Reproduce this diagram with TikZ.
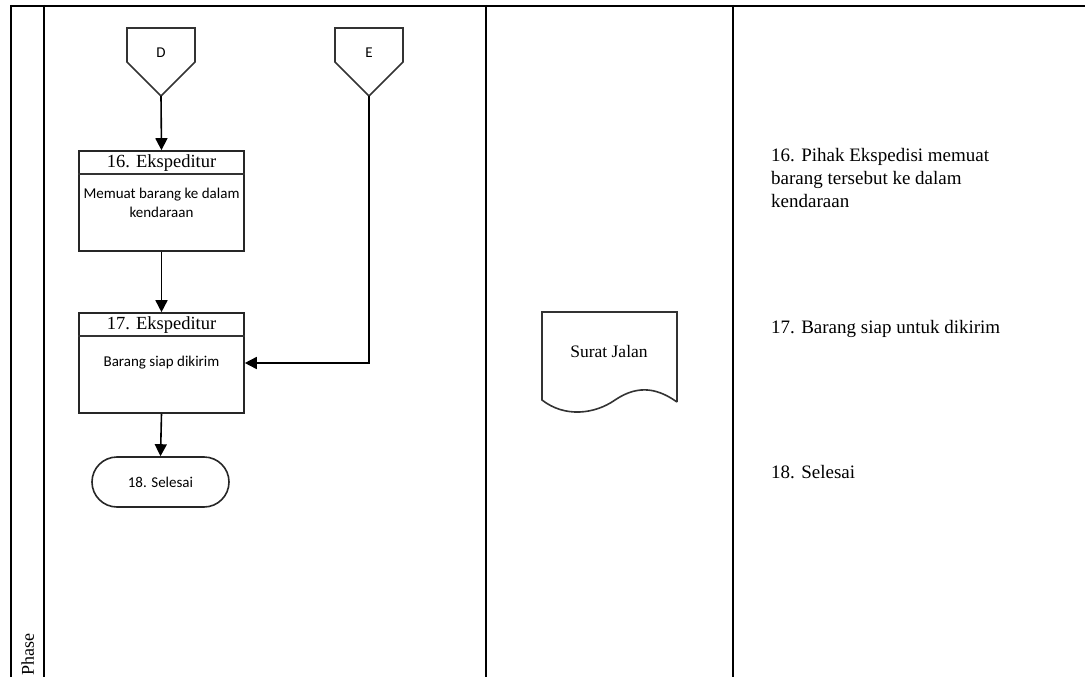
\documentclass[tikz,border=0pt]{standalone}
\usepackage{fontspec}
\setmainfont{Liberation Serif}
\newfontfamily\calibrifont{Carlito}
\usetikzlibrary{arrows.meta}

\begin{document}
\begin{tikzpicture}[x=1pt, y=-1pt, every node/.style={inner sep=0pt},
  lane/.style={line width=2.2pt, black},
  shapeline/.style={line width=1.6pt, draw=black!80},
  procbox/.style={draw=black!85, line width=1.6pt, minimum width=165pt, minimum height=100pt},
  headtxt/.style={font=\fontsize{18.5}{20}\selectfont},
  bodytxt/.style={font=\calibrifont\fontsize{15}{19}\selectfont, align=center},
  desctxt/.style={font=\fontsize{19}{23}\selectfont, align=left, anchor=north west},
  arr/.style={-{Triangle[length=12pt,width=12pt]}, line width=1.6pt}]
\useasboundingbox (0,0) rectangle (1085,677);

% lanes
\draw[line width=2.8pt] (10,6) -- (1085,6);
\draw[lane] (11,5) -- (11,677);
\draw[lane] (44,5) -- (44,677);
\draw[lane] (486,5) -- (486,677);
\draw[lane] (733,5) -- (733,677);
\node[font=\fontsize{18}{20}\selectfont, rotate=90, anchor=base west] (phase) at (34,676) {Phase};

% off-page connectors
\draw[shapeline] (127,28) -- (195,28) -- (195,62) -- (161,96) -- (127,62) -- cycle;
\node[font=\calibrifont\fontsize{15}{16}\selectfont] (D) at (161,53) {D};
\coordinate (Dtip) at (161,96);
\draw[shapeline] (335,28) -- (403,28) -- (403,62) -- (369,96) -- (335,62) -- cycle;
\node[font=\calibrifont\fontsize{15}{16}\selectfont] (E) at (369,53) {E};
\coordinate (Etip) at (369,96);

% process boxes
\node[procbox] (b16) at (161.5,201) {};
\draw[shapeline] ([yshift=-24pt]b16.north west) -- ([yshift=-24pt]b16.north east);
\node[headtxt] (h16) at (161.5,163) {16. Ekspeditur};
\node[bodytxt] (t16) at (161.5,202.5) {Memuat barang ke dalam\\kendaraan};

\node[procbox] (b17) at (161.5,363) {};
\draw[shapeline] ([yshift=-24pt]b17.north west) -- ([yshift=-24pt]b17.north east);
\node[headtxt] (h17) at (161.5,325) {17. Ekspeditur};
\node[bodytxt] (t17) at (161.5,363) {Barang siap dikirim};

\node[draw=black!85, line width=1.6pt, rounded corners=25pt, minimum width=137pt, minimum height=50pt,
  font=\calibrifont\fontsize{15}{17}\selectfont] (end18) at (160.5,482) {18. Selesai};

\draw[arr] (Dtip) -- (b16.north);
\draw[arr] (b16.south) -- (b17.north);
\draw[arr] (b17.south) -- (end18.north);
\draw[arr] (Etip) |- (b17.east);

% document
\draw[shapeline] (677,402) -- (677,312) -- (542,312) -- (542,400)
  .. controls (565,418) and (595,414) .. (615,400)
  .. controls (640,383) and (660,390) .. (677,402);
\node[font=\fontsize{17.5}{20}\selectfont] (sj) at (609,352) {Surat Jalan};

% keterangan
\node[desctxt] (k16) at (771,148) {16. Pihak Ekspedisi memuat\\barang tersebut ke dalam\\kendaraan};
\node[desctxt] (k17) at (771,320) {17. Barang siap untuk dikirim};
\node[desctxt] (k18) at (771,465) {18. Selesai};
\end{tikzpicture}
\end{document}
